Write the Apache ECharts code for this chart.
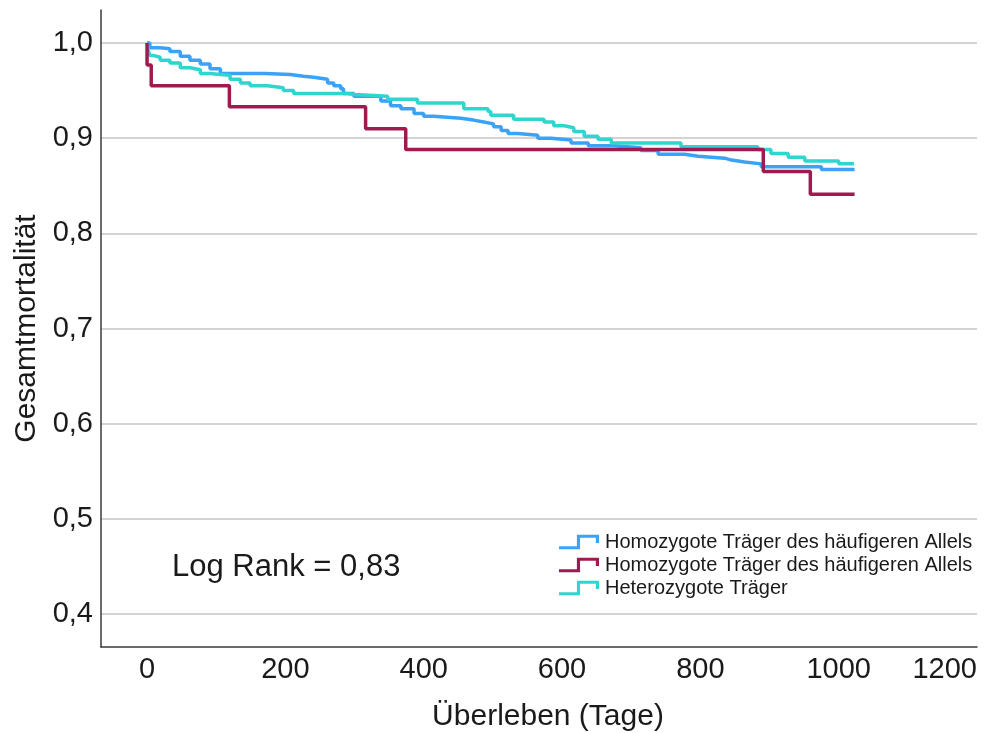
<!DOCTYPE html>
<html>
<head>
<meta charset="utf-8">
<title>Gesamtmortalität – Kaplan-Meier</title>
<script src="https://cdn.jsdelivr.net/npm/echarts@6/dist/echarts.min.js"></script>
<style>
  html, body { margin: 0; padding: 0; background: #ffffff; }
  #chart { width: 986px; height: 733px; }
</style>
</head>
<body>
<div id="chart"></div>
<script>
// Kaplan-Meier estimates: time points (days) and survival proportion after each step
const daysHomo1 = [0, 4, 19, 33, 48, 62, 77, 91, 106, 171, 207, 226, 241, 261, 270,
  280, 284, 299, 338, 352, 367, 386, 400, 414, 454, 472, 487, 501, 512, 522,
  536, 565, 584, 613, 638, 675, 714, 739, 777, 797, 835, 845, 864, 888, 975, 1023];
const survHomo1 = [1.000, 0.995, 0.994, 0.991, 0.986, 0.982, 0.978, 0.973, 0.968, 0.967, 0.965, 0.964, 0.962, 0.958, 0.955,
  0.952, 0.947, 0.944, 0.939, 0.934, 0.931, 0.926, 0.923, 0.921, 0.919, 0.917, 0.915, 0.912, 0.908, 0.905,
  0.903, 0.900, 0.898, 0.895, 0.892, 0.890, 0.887, 0.883, 0.881, 0.879, 0.877, 0.875, 0.873, 0.870, 0.867, 0.867];

const daysHomo2 = [0, 0, 6, 119, 316, 374, 891, 959, 1023];
const survHomo2 = [1.000, 0.977, 0.955, 0.933, 0.910, 0.888, 0.865, 0.841, 0.841];

const daysHetero = [0, 2, 4, 9, 19, 33, 48, 62, 77, 91, 106, 120, 135, 149, 174,
  197, 212, 290, 299, 348, 391, 458, 493, 497, 530, 574, 588, 603, 617, 632,
  652, 671, 772, 883, 902, 927, 951, 1000, 1022];
const survHetero = [1.000, 0.992, 0.987, 0.985, 0.982, 0.979, 0.974, 0.972, 0.968, 0.967, 0.966, 0.962, 0.958, 0.955, 0.953,
  0.950, 0.947, 0.946, 0.944, 0.941, 0.937, 0.931, 0.928, 0.924, 0.920, 0.917, 0.913, 0.911, 0.907, 0.902,
  0.899, 0.895, 0.891, 0.888, 0.884, 0.880, 0.876, 0.873, 0.873];

const groupKeys = ['homo1', 'homo2', 'hetero'];
const groupLabels = {
  homo1: 'Homozygote Träger des häufigeren Allels',
  homo2: 'Homozygote Träger des häufigeren Allels',
  hetero: 'Heterozygote Träger'
};
const groupColors = { homo1: '#3aa2f7', homo2: '#9e1b50', hetero: '#2fd5cf' };

const xTicks = [0, 200, 400, 600, 800, 1000, 1200];
const yTicks = [0.4, 0.5, 0.6, 0.7, 0.8, 0.9, 1.0];

const xTitle = 'Überleben (Tage)';
const yTitle = 'Gesamtmortalität';
const testNote = 'Log Rank = 0,83';

const seriesData = {
  homo1: daysHomo1.map((d, i) => [d, survHomo1[i]]),
  homo2: daysHomo2.map((d, i) => [d, survHomo2[i]]),
  hetero: daysHetero.map((d, i) => [d, survHetero[i]])
};

const font = '"Liberation Sans", Arial, "Noto Sans", sans-serif';
// step-shaped legend marker
const stepIcon = 'path://M0,13 L17,13 L17,2 L38,2 L38,10 L35,10 L35,5 L20,5 L20,16 L0,16 Z';

const chart = echarts.init(document.getElementById('chart'), null, { renderer: 'canvas' });

chart.setOption({
  animation: false,
  backgroundColor: '#ffffff',
  grid: { left: 101, right: 9, top: 10, bottom: 86, containLabel: false, outerBoundsMode: 'none' },
  xAxis: {
    type: 'value',
    min: -66.6,
    max: 1200,
    name: xTitle,
    nameLocation: 'middle',
    nameGap: 55,
    nameTextStyle: { fontFamily: font, fontSize: 30, color: '#1a1a1a', padding: [0, 0, 0, 18] },
    axisLine: { show: true, onZero: false, lineStyle: { color: '#3a3a3a', width: 1.5 } },
    axisTick: { show: false, customValues: xTicks },
    axisLabel: {
      customValues: xTicks,
      fontFamily: font, fontSize: 29, color: '#1a1a1a', margin: 8,
      alignMaxLabel: 'right',
      formatter: v => String(v)
    },
    splitLine: { show: false }
  },
  yAxis: {
    type: 'value',
    min: 0.3653,
    max: 1.0347,
    name: yTitle,
    nameLocation: 'middle',
    nameGap: 55,
    nameTextStyle: { fontFamily: font, fontSize: 30, color: '#1a1a1a' },
    axisLine: { show: true, onZero: false, lineStyle: { color: '#3a3a3a', width: 1.5 } },
    axisTick: { show: false, customValues: yTicks },
    axisLabel: {
      customValues: yTicks,
      fontFamily: font, fontSize: 29, color: '#1a1a1a', margin: 8,
      formatter: v => v.toFixed(1).replace('.', ',')
    },
    splitLine: { show: true, lineStyle: { color: '#c4c4c4', width: 1.5 } }
  },
  legend: {
    orient: 'vertical',
    left: 554,
    top: 527,
    itemWidth: 40,
    itemHeight: 15,
    itemGap: 3,
    icon: stepIcon,
    data: groupKeys,
    formatter: name => groupLabels[name],
    textStyle: { fontFamily: font, fontSize: 20, color: '#1a1a1a', padding: [0, 0, 0, 1] }
  },
  graphic: [{
    type: 'text',
    left: 172,
    top: 552,
    style: { text: testNote, fontFamily: font, fontSize: 31, fill: '#1a1a1a' }
  }],
  series: groupKeys.map(k => ({
    name: k,
    type: 'line',
    step: 'end',
    data: seriesData[k],
    showSymbol: false,
    symbol: 'none',
    color: groupColors[k],
    lineStyle: { color: groupColors[k], width: 3.5 },
    z: k === 'homo2' ? 3 : 2
  }))
});
</script>
</body>
</html>
